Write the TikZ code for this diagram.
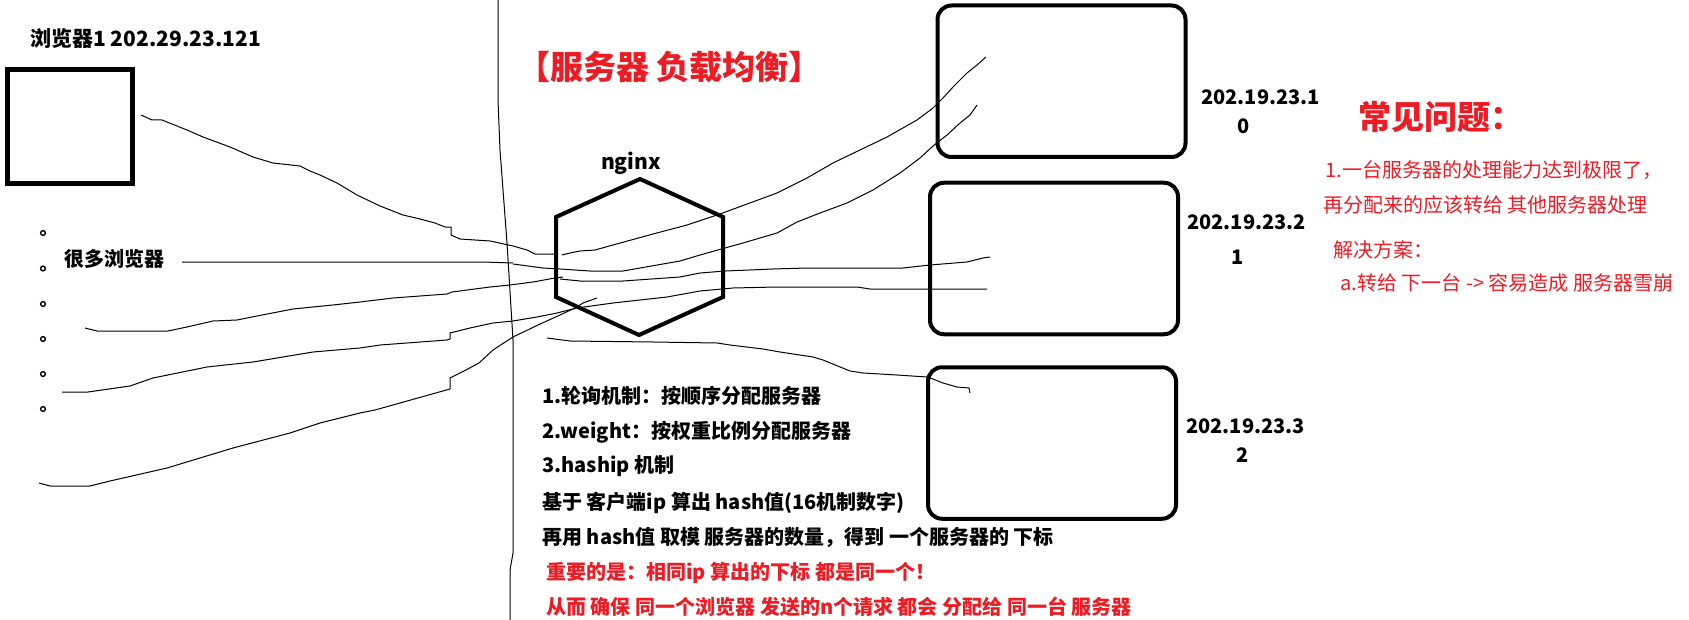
\documentclass[tikz,border=0pt]{standalone}
\usepackage{fontspec}
\setmainfont{Noto Sans CJK SC}
\usepackage{tikz}
\definecolor{paintred}{RGB}{237,28,36}

\begin{document}
\begin{tikzpicture}[x=0.5pt,y=-0.5pt,
  wire/.style={line width=0.5pt, line join=round},
  lbl/.style={anchor=west, inner sep=0pt, font=\bfseries\fontsize{10pt}{12pt}\selectfont},
  note/.style={anchor=west, inner sep=0pt, text=paintred, font=\fontsize{10pt}{12pt}\selectfont},
  head/.style={anchor=west, inner sep=0pt, text=paintred, font=\bfseries\fontsize{16.5pt}{18pt}\selectfont},
  srv/.style={draw, line width=2pt, rounded corners=7pt, minimum width=124pt, minimum height=75.75pt},
  bdot/.style={draw, circle, line width=0.7pt, inner sep=0pt, minimum size=2.4pt}]
  \useasboundingbox (0,0) rectangle (1689,620);

  % divider
  \draw[wire] (498,0) -- (498,100) -- (500,150) -- (507,243) -- (513,340) -- (513,553) -- (510,570) -- (510,620);

  % browsers
  \node[lbl, font=\bfseries\fontsize{10.5pt}{12pt}\selectfont] (b1lbl) at (30,38.5) {浏览器1 202.29.23.121};
  \node[draw, line width=2.25pt, minimum width=62.4pt, minimum height=57pt] (brw) at (70,126.5) {};
  \foreach \y [count=\i] in {233,268.5,304,339,374,409}
    \node[bdot] (d\i) at (43,\y) {};
  \node[lbl] (many) at (64,259) {很多浏览器};

  % wires
  \draw[wire] (141,115) -- (152,120) -- (162,120) -- (187,130) -- (203,137) -- (230,147) -- (253,157) -- (273,163) -- (300,166) -- (310,171) -- (320,175) -- (337,183) -- (357,195) -- (380,206) -- (403,215) -- (420,219) -- (435,223) -- (445,227) -- (451,227) -- (451,235) -- (460,239) -- (490,241) -- (513,246) -- (527,250) -- (535,254) -- (555,254);
  \draw[wire] (562,255) -- (570,253) -- (580,251) -- (595,250) -- (613,245) -- (653,234) -- (687,225) -- (720,214) -- (777,193) -- (797,183) -- (807,178) -- (833,163) -- (860,150) -- (887,137) -- (917,120) -- (933,108) -- (943,98) -- (953,87) -- (967,73) -- (977,65) -- (986,57);
  \draw[wire] (182,262) -- (483,262) -- (513,263);
  \draw[wire] (513,264) -- (543,268) -- (560,269) -- (590,271) -- (623,271) -- (680,261) -- (700,255) -- (725,248) -- (743,243) -- (777,233) -- (797,222) -- (820,213) -- (847,203) -- (873,190) -- (900,173) -- (920,158) -- (933,146) -- (947,135) -- (960,123) -- (970,115) -- (977,105);
  \draw[wire] (85,328) -- (97,331) -- (168,331) -- (187,327) -- (213,321) -- (237,320) -- (257,316) -- (293,309) -- (333,305) -- (360,302) -- (393,298) -- (447,294) -- (452,292) -- (490,287) -- (510,285) -- (533,282) -- (555,278) -- (563,277);
  \draw[wire] (560,279) -- (580,281) -- (623,281) -- (680,277) -- (700,273) -- (725,271) -- (773,269) -- (807,268) -- (903,268) -- (930,265) -- (967,262) -- (983,258) -- (990,257);
  \draw[wire] (62,392) -- (88,392) -- (130,386) -- (153,378) -- (207,367) -- (253,362) -- (313,352) -- (360,348) -- (380,345) -- (447,340) -- (450,339) -- (450,333) -- (470,328) -- (493,323) -- (513,321) -- (537,317) -- (557,313) -- (577,308) -- (613,303) -- (667,297) -- (700,291) -- (733,288) -- (777,287) -- (857,287) -- (870,289) -- (987,289);
  \draw[wire] (39,483) -- (50,486) -- (90,486) -- (110,481) -- (167,468) -- (233,448) -- (290,433) -- (320,423) -- (360,413) -- (375,410) -- (450,389) -- (450,378) -- (464,371) -- (479,363) -- (493,350) -- (513,337) -- (538,325) -- (560,315) -- (575,308) -- (583,303) -- (597,298);
  \draw[wire] (547,338) -- (570,341) -- (653,342) -- (717,343) -- (730,345) -- (763,349) -- (780,352) -- (813,357) -- (823,360) -- (850,371) -- (863,373) -- (897,375) -- (927,377) -- (933,379) -- (943,383) -- (957,387) -- (969,388) -- (970,393);

  % nginx
  \draw[line width=2pt, line join=miter] (640,179) -- (723,217) -- (723,297) -- (639,335) -- (556,297) -- (556,217) -- cycle;
  \node[inner sep=0pt, font=\bfseries\fontsize{10.5pt}{12pt}\selectfont] (ngx) at (631,163) {nginx};
  \node[head] (title) at (517,67) {【服务器 负载均衡】};

  % servers
  \node[srv] (s1) at (1061.5,81.25) {};
  \node[srv] (s2) at (1054,258.5) {};
  \node[srv] (s3) at (1052,443) {};
  \node[lbl] (ip1) at (1201,97) {202.19.23.1};
  \node[lbl, anchor=center] (ix1) at (1244,126) {0};
  \node[lbl] (ip2) at (1187,222) {202.19.23.2};
  \node[lbl, anchor=center] (ix2) at (1238,257) {1};
  \node[lbl] (ip3) at (1186,426) {202.19.23.3};
  \node[lbl, anchor=center] (ix3) at (1243,455) {2};

  % notes
  \node[head] (faq) at (1358,117) {常见问题：};
  \node[note] (n1) at (1325,170) {1.一台服务器的处理能力达到极限了，};
  \node[note] (n2) at (1323,205) {再分配来的应该转给 其他服务器处理};
  \node[note] (n3) at (1333,250) {解决方案：};
  \node[note] (n4) at (1340,283) {a.转给 下一台 -> 容易造成 服务器雪崩};

  \node[lbl] (m1) at (542,396) {1.轮询机制：按顺序分配服务器};
  \node[lbl] (m2) at (542,432) {2.weight：按权重比例分配服务器};
  \node[lbl] (m3) at (542,466) {3.haship 机制};
  \node[lbl] (m4) at (542,503) {基于 客户端ip 算出 hash值(16机制数字)};
  \node[lbl] (m5) at (542,537) {再用 hash值 取模 服务器的数量，得到 一个服务器的 下标};
  \node[lbl, text=paintred] (m6) at (546,573) {重要的是：相同ip 算出的下标 都是同一个！};
  \node[lbl, text=paintred] (m7) at (546,607) {从而 确保 同一个浏览器 发送的n个请求 都会 分配给 同一台 服务器};
\end{tikzpicture}
\end{document}
